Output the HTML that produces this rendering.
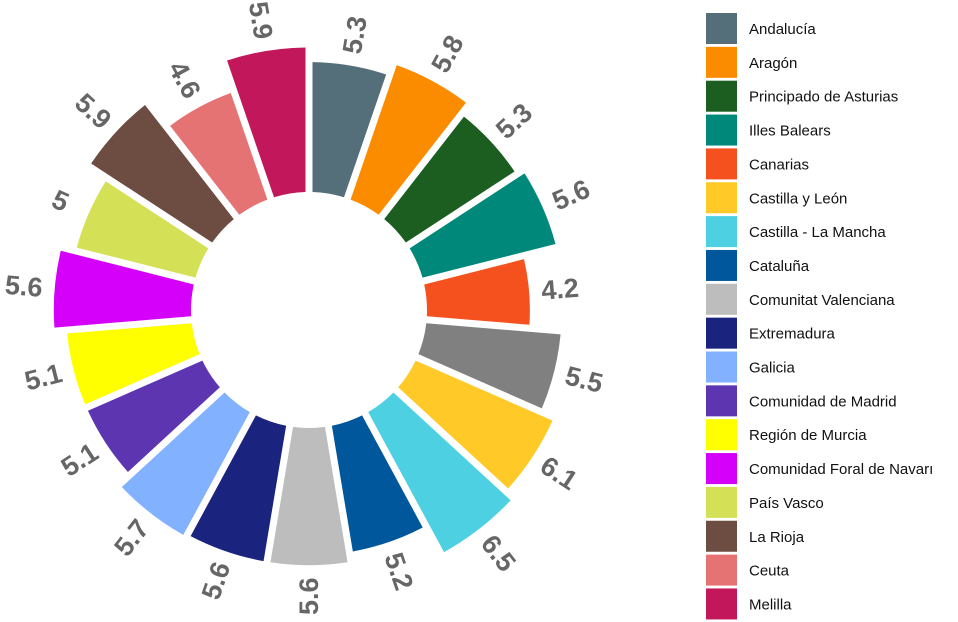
<!DOCTYPE html>
<html><head><meta charset="utf-8"><style>
body{margin:0;background:#fff;width:958px;height:622px;overflow:hidden;font-family:"Liberation Sans",sans-serif}
svg{position:absolute;left:0;top:0}
</style></head><body>
<svg id="chart" width="958" height="622" viewBox="0 0 958 622"></svg>
<script>
const categories=["Andalucía","Aragón","Principado de Asturias","Illes Balears","Canarias","Cantabria","Castilla y León","Castilla - La Mancha","Cataluña","Comunitat Valenciana","Extremadura","Galicia","Comunidad de Madrid","Región de Murcia","Comunidad Foral de Navarra","País Vasco","La Rioja","Ceuta","Melilla"];
const values=[5.3,5.8,5.3,5.6,4.2,5.5,6.1,6.5,5.2,5.6,5.6,5.7,5.1,5.1,5.6,5,5.9,4.6,5.9];
const labels=["5.3","5.8","5.3","5.6","4.2","5.5","6.1","6.5","5.2","5.6","5.6","5.7","5.1","5.1","5.6","5","5.9","4.6","5.9"];
const inLegend=[1,1,1,1,1,0,1,1,1,1,1,1,1,1,1,1,1,1,1];
const legendNames=["Andalucía","Aragón","Principado de Asturias","Illes Balears","Canarias","","Castilla y León","Castilla - La Mancha","Cataluña","Comunitat Valenciana","Extremadura","Galicia","Comunidad de Madrid","Región de Murcia","Comunidad Foral de Navarı","País Vasco","La Rioja","Ceuta","Melilla"];
const colors=["#546e7a","#fb8c00","#1b5e20","#00897b","#f4511e","#808080","#ffca28","#4dd0e1","#01579b","#bdbdbd","#1a237e","#82b1ff","#5e35b1","#ffff00","#d500f9","#d4e157","#6d4c41","#e57373","#c2185b"];
const svg=document.getElementById('chart');const NS='http://www.w3.org/2000/svg';
const cx=309,cy=310,r0=118,k=24.5;
const n=values.length,step=2*Math.PI/n;
function rad(v){return r0+k*v;}
function pt(r,a){return [cx+r*Math.sin(a),cy-r*Math.cos(a)];}
const gapPx=3.5;
values.forEach((v,i)=>{
  const R=rad(v);
  const a0=i*step,a1=(i+1)*step;
  const gi=gapPx/r0,go=gapPx/R;
  const p1=pt(r0,a0+gi),p2=pt(R,a0+go),p3=pt(R,a1-go),p4=pt(r0,a1-gi);
  const p=document.createElementNS(NS,'path');
  p.setAttribute('d',`M${p1}L${p2}A${R},${R} 0 0 1 ${p3}L${p4}A${r0},${r0} 0 0 0 ${p1}Z`);
  p.setAttribute('fill',colors[i]);
  
  
  svg.appendChild(p);
  const am=(i+0.5)*step,deg=am*180/Math.PI;
  const lp=pt(R+31,am);
  const rot=deg<180?deg-90:deg-270;
  const t=document.createElementNS(NS,'text');
  t.setAttribute('x',lp[0]);t.setAttribute('y',lp[1]);
  t.setAttribute('text-anchor','middle');t.setAttribute('dominant-baseline','central');
  t.setAttribute('transform',`rotate(${rot} ${lp[0]} ${lp[1]})`);
  t.setAttribute('font-size','27');t.setAttribute('font-weight','bold');t.setAttribute('fill','#666');
  
  
  t.textContent=labels[i];svg.appendChild(t);
});
let row=0;
legendNames.forEach((nm,i)=>{
  if(!inLegend[i])return;
  const y=13+row*33.85;
  const g=document.createElementNS(NS,'g');
  
  
  const r=document.createElementNS(NS,'rect');
  r.setAttribute('x',706);r.setAttribute('y',y);r.setAttribute('width',31);r.setAttribute('height',31);r.setAttribute('fill',colors[i]);
  
  
  const t=document.createElementNS(NS,'text');
  t.setAttribute('x',749);t.setAttribute('y',y+21);t.setAttribute('font-size','15');t.setAttribute('fill','#111');
  
  
  t.textContent=nm;
  g.appendChild(r);g.appendChild(t);svg.appendChild(g);row++;
});
</script>
</body></html>
